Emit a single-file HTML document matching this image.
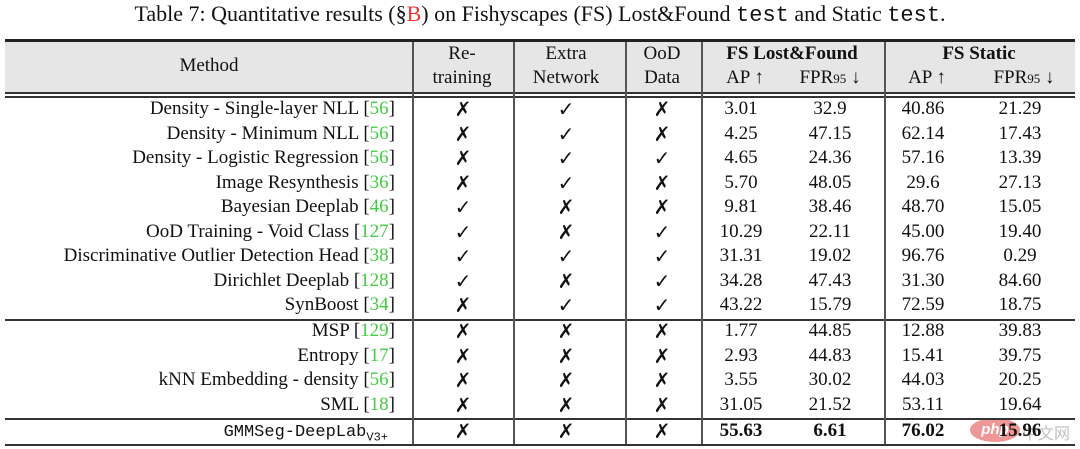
<!DOCTYPE html>
<html><head><meta charset="utf-8"><style>
body{margin:0;width:1080px;height:449px;background:#fff;overflow:hidden;font-family:"Liberation Serif",serif;color:#111;position:relative}
.a{position:absolute}
.t{position:absolute;font-size:19px;white-space:nowrap;line-height:24px}
.h{position:absolute;height:1.5px;background:#333;left:5px;width:1070px}
.v{position:absolute;width:1.5px;background:#555}
.g{color:#4c4}
.mono{font-family:"Liberation Mono",monospace}
.mk{font-family:"DejaVu Sans",sans-serif;font-weight:bold;font-size:20px}
</style></head><body>
<div class="a" style="left:0;width:1080px;top:0;text-align:center;font-size:22px;line-height:28px">Table 7: Quantitative results (§<span style="color:#e33">B</span>) on Fishyscapes (FS) Lost&amp;Found <span class="mono">test</span> and Static <span class="mono">test</span>.</div>
<div class="a" style="left:5px;width:1070px;top:42px;height:50px;background:#e6e6e6"></div>
<div class="a" style="left:970px;top:418px;width:50px;height:24px;border-radius:50%;background:#e03030;opacity:.5;color:#fff;font:italic bold 15px 'Liberation Sans',sans-serif;text-align:center;line-height:24px">php</div>
<div class="a" style="left:1022px;top:420px;font:16px 'Noto Sans CJK SC',sans-serif;color:#999;opacity:.6">中文网</div>
<div class="h" style="top:39px;height:3px;background:#222"></div>
<div class="h" style="top:92px"></div>
<div class="h" style="top:96px"></div>
<div class="h" style="top:319px"></div>
<div class="h" style="top:418px"></div>
<div class="h" style="top:444px;height:2px"></div>
<div id="tbl"></div>
<script>
const methods=["Density - Single-layer NLL","Density - Minimum NLL","Density - Logistic Regression","Image Resynthesis","Bayesian Deeplab","OoD Training - Void Class","Discriminative Outlier Detection Head","Dirichlet Deeplab","SynBoost","MSP","Entropy","kNN Embedding - density","SML"];
const refs=["56","56","56","36","46","127","38","128","34","129","17","56","18"];
const retrain=[0,0,0,0,1,1,1,1,0,0,0,0,0,0];
const extra=[1,1,1,1,0,0,1,0,1,0,0,0,0,0];
const oodData=[0,0,1,0,0,1,1,1,1,0,0,0,0,0];
const lfAP=["3.01","4.25","4.65","5.70","9.81","10.29","31.31","34.28","43.22","1.77","2.93","3.55","31.05","55.63"];
const lfFPR=["32.9","47.15","24.36","48.05","38.46","22.11","19.02","47.43","15.79","44.85","44.83","30.02","21.52","6.61"];
const stAP=["40.86","62.14","57.16","29.6","48.70","45.00","96.76","31.30","72.59","12.88","15.41","44.03","53.11","76.02"];
const stFPR=["21.29","17.43","13.39","27.13","15.05","19.40","0.29","84.60","18.75","39.83","39.75","20.25","19.64","15.96"];
const T=document.getElementById('tbl');
function txt(x,y,html,align,name,bold){const d=document.createElement('div');d.className='t';d.innerHTML=html;


if(align==='c'){d.style.left=(x-100)+'px';d.style.width='200px';d.style.textAlign='center';}
else{d.style.right=(1080-x)+'px';d.style.textAlign='right';}
d.style.top=(y-12)+'px';if(bold)d.style.fontWeight='bold';T.appendChild(d);}
const vx=[412,513,625,701,884];
vx.forEach((x,i)=>{const d=document.createElement('div');d.className='v';d.style.left=x+'px';d.style.top='42px';d.style.height='402px';

T.appendChild(d);});
txt(209,66,"Method",'c','method-header');
txt(462,54,"Re-",'c','retraining-header');txt(462,78,"training",'c','retraining-header-2');
txt(566,54,"Extra",'c','extra-header');txt(566,78,"Network",'c','extra-header-2');
txt(662,54,"OoD",'c','ood-header');txt(662,78,"Data",'c','ood-header-2');
txt(792,54,"FS Lost&amp;Found",'c','lf-header',1);txt(979,54,"FS Static",'c','static-header',1);
txt(745,78,"AP ↑",'c','lf-ap-header');txt(830,78,"FPR<span style='font-size:13px'>95</span> ↓",'c','lf-fpr-header');
txt(927,78,"AP ↑",'c','st-ap-header');txt(1024,78,"FPR<span style='font-size:13px'>95</span> ↓",'c','st-fpr-header');
const rowY=[109,134,158,183,207,232,256,281,305,331,356,380,405,431];
const mk=v=>v?"<span class='mk'>✓</span>":"<span class='mk' style='font-style:italic'>✗</span>";
for(let i=0;i<14;i++){const y=rowY[i];const b=i===13;
 if(i<13)txt(395,y,methods[i]+" [<span class='g'>"+refs[i]+"</span>]",'r','method-name');
 else txt(388,y,"<span class='mono' style='font-size:17px'>GMMSeg-DeepLab<sub style='font-size:12px'>V3+</sub></span>",'r','method-name');
 txt(463,y,mk(retrain[i]),'c','retraining-cell');txt(566,y,mk(extra[i]),'c','extra-cell');txt(662,y,mk(oodData[i]),'c','ood-cell');
 txt(741,y,lfAP[i],'c','lf-ap-cell',b);txt(830,y,lfFPR[i],'c','lf-fpr-cell',b);
 txt(923,y,stAP[i],'c','st-ap-cell',b);txt(1020,y,stFPR[i],'c','st-fpr-cell',b);}
</script>
</body></html>
